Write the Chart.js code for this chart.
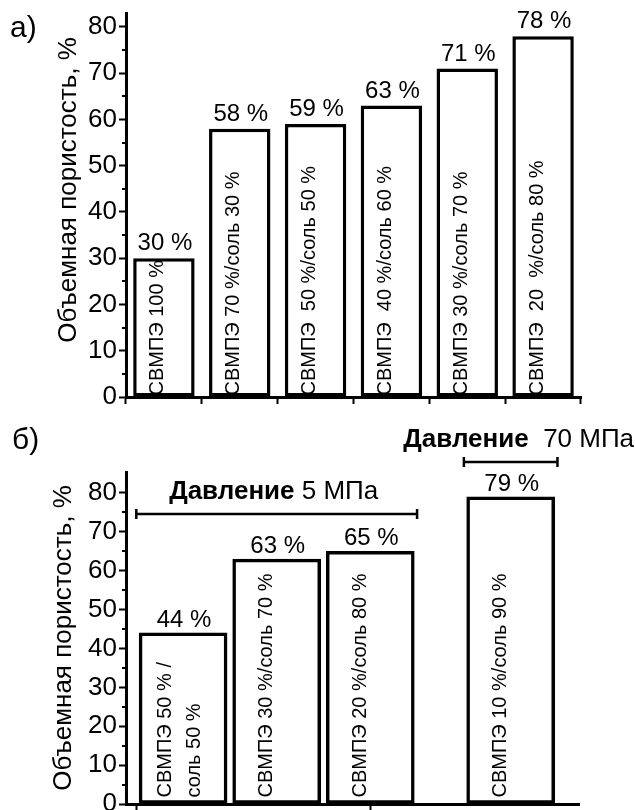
<!DOCTYPE html>
<html lang="ru">
<head>
<meta charset="utf-8">
<script src="https://cdn.jsdelivr.net/npm/chart.js@4.4.1/dist/chart.umd.min.js"></script>
<style>
  html, body { margin: 0; padding: 0; background: #fff; }
  #wrap { position: relative; width: 635px; height: 810px; }
  canvas { position: absolute; left: 0; }
  #chartA { top: 0; }
  #chartB { top: 405px; }
</style>
</head>
<body>
<div id="wrap">
  <canvas id="chartA" width="635" height="405"></canvas>
  <canvas id="chartB" width="635" height="405"></canvas>
</div>
<script>
// а) — состав смеси и пористость
const topLabels = [
  'СВМПЭ 100 %',
  'СВМПЭ 70 %/соль 30 %',
  'СВМПЭ  50 %/соль 50 %',
  'СВМПЭ  40 %/соль 60 %',
  'СВМПЭ 30 %/соль 70 %',
  'СВМПЭ  20  %/соль 80 %'
];
const topValues = [30, 58, 59, 63, 71, 78];

// б) — разное давление прессования
const bottomLabels = [
  ['СВМПЭ 50 % /', 'соль 50 %'],
  'СВМПЭ 30 %/соль 70 %',
  'СВМПЭ 20 %/соль 80 %',
  'СВМПЭ 10 %/соль 90 %'
];
const bottomValues = [44, 63, 65, 79];
const bottomX = [1, 2, 3, 4.5];
const bottomXTicks = [0.5, 3];

const pressureNames = ['Давление', 'Давление'];
const pressureValues = [' 5 МПа', '  70 МПа'];
const pressureFrom = [0.5, 4];
const pressureTo = [3.5, 5];
const pressureLevel = [74.5, 88];

const yTitle = 'Объемная пористость, %';
const minorTicks = [5, 15, 25, 35, 45, 55, 65, 75];

const FONT = '"Liberation Sans", Arial, sans-serif';
Chart.defaults.font.family = FONT;
Chart.defaults.color = '#000';

const decor = {
  id: 'decor',
  afterDraw(chart, args, opts) {
    const ctx = chart.ctx;
    const area = chart.chartArea;
    const yScale = chart.scales.y;
    const xScale = chart.scales.x;
    const meta = chart.getDatasetMeta(0);
    ctx.save();
    ctx.fillStyle = '#000';
    ctx.strokeStyle = '#000';

    // minor ticks
    ctx.lineWidth = 2;
    minorTicks.forEach(v => {
      const y = Math.round(yScale.getPixelForValue(v));
      ctx.beginPath();
      ctx.moveTo(area.left - 4, y);
      ctx.lineTo(area.left, y);
      ctx.stroke();
    });

    // panel letter
    ctx.font = '30px ' + FONT;
    ctx.textAlign = 'left';
    ctx.textBaseline = 'alphabetic';
    ctx.fillText(opts.letter, opts.letterX, opts.letterY);

    // axis title
    ctx.save();
    ctx.font = '26px ' + FONT;
    ctx.textAlign = 'center';
    ctx.textBaseline = 'middle';
    ctx.translate(opts.titleX, (area.top + area.bottom) / 2 + opts.titleDy);
    ctx.rotate(-Math.PI / 2);
    ctx.fillText(yTitle, 0, 0);
    ctx.restore();

    // value labels and names inside bars
    const values = chart.data.datasets[0].data;
    meta.data.forEach((bar, i) => {
      const v = typeof values[i] === 'object' ? values[i].y : values[i];
      ctx.font = '24px ' + FONT;
      ctx.textAlign = 'center';
      ctx.textBaseline = 'alphabetic';
      ctx.fillText(v + ' %', bar.x + 1, bar.y - opts.valueGap);

      const name = opts.names[i];
      const lines = Array.isArray(name) ? name : [name];
      ctx.font = '20px ' + FONT;
      ctx.textAlign = 'left';
      ctx.textBaseline = 'middle';
      const cx = bar.x + (lines.length > 1 ? -3 : opts.nameDx);
      lines.forEach((line, k) => {
        ctx.save();
        ctx.translate(cx + (k - (lines.length - 1) / 2) * 29, bar.base - opts.nameDy);
        ctx.rotate(-Math.PI / 2);
        ctx.fillText(line, 0, 0);
        ctx.restore();
      });
    });

    // pressure brackets
    if (opts.brackets) {
      pressureNames.forEach((nm, i) => {
        const x1 = xScale.getPixelForValue(pressureFrom[i]);
        const x2 = xScale.getPixelForValue(pressureTo[i]);
        const y = Math.round(yScale.getPixelForValue(pressureLevel[i]));
        ctx.lineWidth = 2.5;
        ctx.beginPath();
        ctx.moveTo(x1, y); ctx.lineTo(x2, y);
        ctx.moveTo(x1, y - 5); ctx.lineTo(x1, y + 5);
        ctx.moveTo(x2, y - 5); ctx.lineTo(x2, y + 5);
        ctx.stroke();

        const boldFont = 'bold 26px ' + FONT;
        const normFont = '26px ' + FONT;
        ctx.font = boldFont;
        const w1 = ctx.measureText(nm).width;
        ctx.font = normFont;
        const w2 = ctx.measureText(pressureValues[i]).width;
        const start = (x1 + x2) / 2 - (w1 + w2) / 2 + (i === 1 ? 8 : -3);
        ctx.textAlign = 'left';
        ctx.textBaseline = 'alphabetic';
        ctx.font = boldFont;
        ctx.fillText(nm, start, y - 15);
        ctx.font = normFont;
        ctx.fillText(pressureValues[i], start + w1, y - 15);
      });
    }
    ctx.restore();
  }
};

function yAxis(max) {
  return {
    min: 0,
    max: max,
    ticks: { stepSize: 10, includeBounds: false, padding: 2, color: '#000', font: { size: 26 } },
    grid: { drawOnChartArea: false, tickLength: 7, tickWidth: 2, tickColor: '#000' },
    border: { color: '#000', width: 3 },
    afterFit: s => {
      s.width = 126;
      s.paddingTop = 0;
      s.paddingBottom = 0;
    }
  };
}

new Chart(document.getElementById('chartA'), {
  type: 'bar',
  data: {
    labels: topLabels,
    datasets: [{
      data: topValues,
      backgroundColor: '#fff',
      borderColor: '#000',
      borderWidth: 3.5,
      borderSkipped: false,
      barPercentage: 0.81,
      categoryPercentage: 1
    }]
  },
  options: {
    responsive: false,
    animation: false,
    layout: { autoPadding: false, padding: { left: 0, right: 54, top: 13, bottom: 0 } },
    plugins: {
      legend: { display: false },
      tooltip: { enabled: false },
      decor: { letter: 'а)', letterX: 10, letterY: 37, titleX: 69, titleDy: -15,
               names: topLabels, nameDx: -6, nameDy: 1, valueGap: 8 }
    },
    scales: {
      x: {
        ticks: { display: false },
        grid: { offset: true, drawOnChartArea: false, tickLength: 7, tickWidth: 2, tickColor: '#000' },
        border: { color: '#000', width: 3 },
        afterFit: s => { s.height = 8; }
      },
      y: yAxis(83)
    }
  },
  plugins: [decor]
});

new Chart(document.getElementById('chartB'), {
  type: 'bar',
  data: {
    datasets: [{
      data: bottomX.map((x, i) => ({ x: x, y: bottomValues[i] })),
      backgroundColor: '#fff',
      borderColor: '#000',
      borderWidth: 3.5,
      borderSkipped: false,
      barThickness: 88
    }]
  },
  options: {
    responsive: false,
    animation: false,
    layout: { autoPadding: false, padding: { left: 0, right: 56, top: 67, bottom: 0 } },
    plugins: {
      legend: { display: false },
      tooltip: { enabled: false },
      decor: { letter: 'б)', letterX: 12, letterY: 44, titleX: 64, titleDy: 0,
               names: bottomLabels, nameDx: -10, nameDy: 6, valueGap: 6, brackets: true }
    },
    scales: {
      x: {
        type: 'linear',
        min: 0.39,
        max: 5.23,
        offset: false,
        afterBuildTicks: s => { s.ticks = bottomXTicks.map(v => ({ value: v })); },
        ticks: { display: false },
        grid: { offset: false, drawOnChartArea: false, tickLength: 6, tickWidth: 2, tickColor: '#000' },
        border: { color: '#000', width: 3 },
        afterFit: s => { s.height = 6; }
      },
      y: yAxis(85.4)
    }
  },
  plugins: [decor]
});
</script>
</body>
</html>
